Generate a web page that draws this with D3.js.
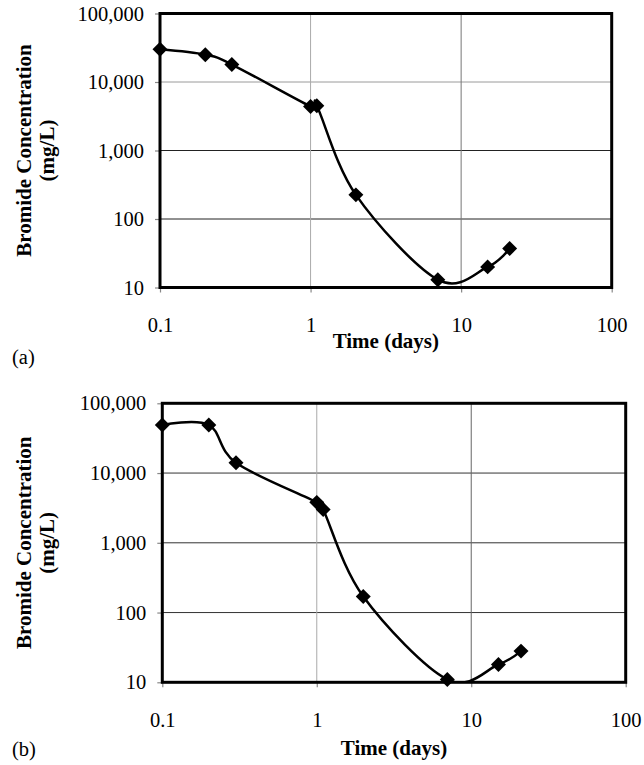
<!DOCTYPE html>
<html>
<head>
<meta charset="utf-8">
<script src="https://cdnjs.cloudflare.com/ajax/libs/d3/7.8.5/d3.min.js"></script>
<style>
  html, body { margin: 0; padding: 0; background: #fff; }
  svg { display: block; }
</style>
</head>
<body>
<svg id="chart" width="644" height="765"></svg>
<script>
// ---- data ----
const timeA = [0.1, 0.2, 0.3, 1.0, 1.1, 2, 7, 15, 21];
const concA = [30000, 25000, 18000, 4400, 4500, 225, 13, 20, 37];
const timeB = [0.1, 0.2, 0.3, 1.0, 1.1, 2, 7, 15, 21];
const concB = [49000, 49000, 14000, 3800, 3000, 170, 11, 18, 28];
const yTickValues = [10, 100, 1000, 10000, 100000];
const yTickLabels = ["10", "100", "1,000", "10,000", "100,000"];
const xTickValues = [0.1, 1, 10, 100];
const xTickLabels = ["0.1", "1", "10", "100"];
const panelLabels = ["(a)", "(b)"];
const yTitle = ["Bromide Concentration", "(mg/L)"];
const xTitle = "Time (days)";

const svg = d3.select("#chart");
const FONT = "'Liberation Serif', 'Times New Roman', serif";

const panels = [
  { t: timeA, c: concA, label: panelLabels[0],
    left: 160, right: 611.7, top: 13.5, bottom: 287.5,
    xTitleY: 348, panelY: 364, hGrid: ["#9a9a9a", "#222", "#222"], vGrid: ["#aaa", "#777"] },
  { t: timeB, c: concB, label: panelLabels[1],
    left: 162.3, right: 625.7, top: 403.3, bottom: 682.3,
    xTitleY: 755, panelY: 756, hGrid: ["#333", "#333", "#333"], vGrid: ["#aaa", "#666"] }
];

panels.forEach((p, i) => {
  const g = svg.append("g");
  const x = d3.scaleLog().domain([0.1, 100]).range([p.left, p.right]);
  const y = d3.scaleLog().domain([10, 100000]).range([p.bottom, p.top]);

  // gridlines
  [10000, 1000, 100].forEach((v, k) => {
    g.append("line")
      .attr("x1", p.left).attr("x2", p.right)
      .attr("y1", y(v)).attr("y2", y(v))
      .attr("stroke", p.hGrid[k]).attr("stroke-width", 1);
  });
  [1, 10].forEach((v, k) => {
    g.append("line")
      .attr("x1", x(v)).attr("x2", x(v))
      .attr("y1", p.top).attr("y2", p.bottom)
      .attr("stroke", p.vGrid[k]).attr("stroke-width", 1);
  });

  // axes (ticks + labels)
  const yAxis = d3.axisLeft(y).tickValues(yTickValues)
    .tickFormat((d, k) => yTickLabels[k]).tickSize(5).tickPadding(11);
  const xAxis = d3.axisBottom(x).tickValues(xTickValues)
    .tickFormat((d, k) => xTickLabels[k]).tickSize(5).tickPadding(25);

  const ya = g.append("g").attr("transform", `translate(${p.left},0)`).call(yAxis);
  const xa = g.append("g").attr("transform", `translate(0,${p.bottom})`).call(xAxis);
  [ya, xa].forEach(a => {
    a.select(".domain").remove();
    a.selectAll(".tick line").attr("stroke", "#888").attr("stroke-width", 1.2);
    a.selectAll(".tick text").attr("fill", "#000")
      .style("font-family", FONT).style("font-size", "20.5px");
  });

  // clip path for the curve
  const clipId = "clip" + i;
  svg.append("clipPath").attr("id", clipId)
    .append("rect").attr("x", p.left).attr("y", p.top)
    .attr("width", p.right - p.left).attr("height", p.bottom - p.top);

  // frame
  g.append("rect")
    .attr("x", p.left).attr("y", p.top)
    .attr("width", p.right - p.left).attr("height", p.bottom - p.top)
    .attr("fill", "none").attr("stroke", "#000").attr("stroke-width", 3);

  // smoothed line
  const pts = p.t.map((tv, k) => [tv, p.c[k]]);
  const line = d3.line()
    .x(d => x(d[0])).y(d => y(d[1]))
    .curve(d3.curveCardinal.tension(0));
  g.append("path")
    .attr("d", line(pts))
    .attr("clip-path", `url(#${clipId})`)
    .attr("fill", "none").attr("stroke", "#000").attr("stroke-width", 2.5);

  // diamond markers
  const sym = d3.symbol().type(d3.symbolSquare).size(112);
  g.selectAll("path.marker").data(pts).enter().append("path")
    .attr("class", "marker")
    .attr("d", sym)
    .attr("transform", d => `translate(${x(d[0])},${y(d[1])}) rotate(45)`)
    .attr("fill", "#000");

  // y title
  const cy = (p.top + p.bottom) / 2;
  const yt = g.append("text")
    .attr("transform", `translate(31,${cy}) rotate(-90)`)
    .attr("text-anchor", "middle")
    .style("font-family", FONT).style("font-size", "21px").style("font-weight", "bold");
  yt.append("tspan").attr("x", 0).attr("y", 0).text(yTitle[0]);
  yt.append("tspan").attr("x", 0).attr("y", 23).text(yTitle[1]);

  // x title
  g.append("text")
    .attr("x", (p.left + p.right) / 2).attr("y", p.xTitleY)
    .attr("text-anchor", "middle")
    .style("font-family", FONT).style("font-size", "21px").style("font-weight", "bold")
    .text(xTitle);

  // panel label
  g.append("text")
    .attr("x", 12).attr("y", p.panelY)
    .style("font-family", FONT).style("font-size", "20.5px")
    .text(p.label);
});
</script>
</body>
</html>
